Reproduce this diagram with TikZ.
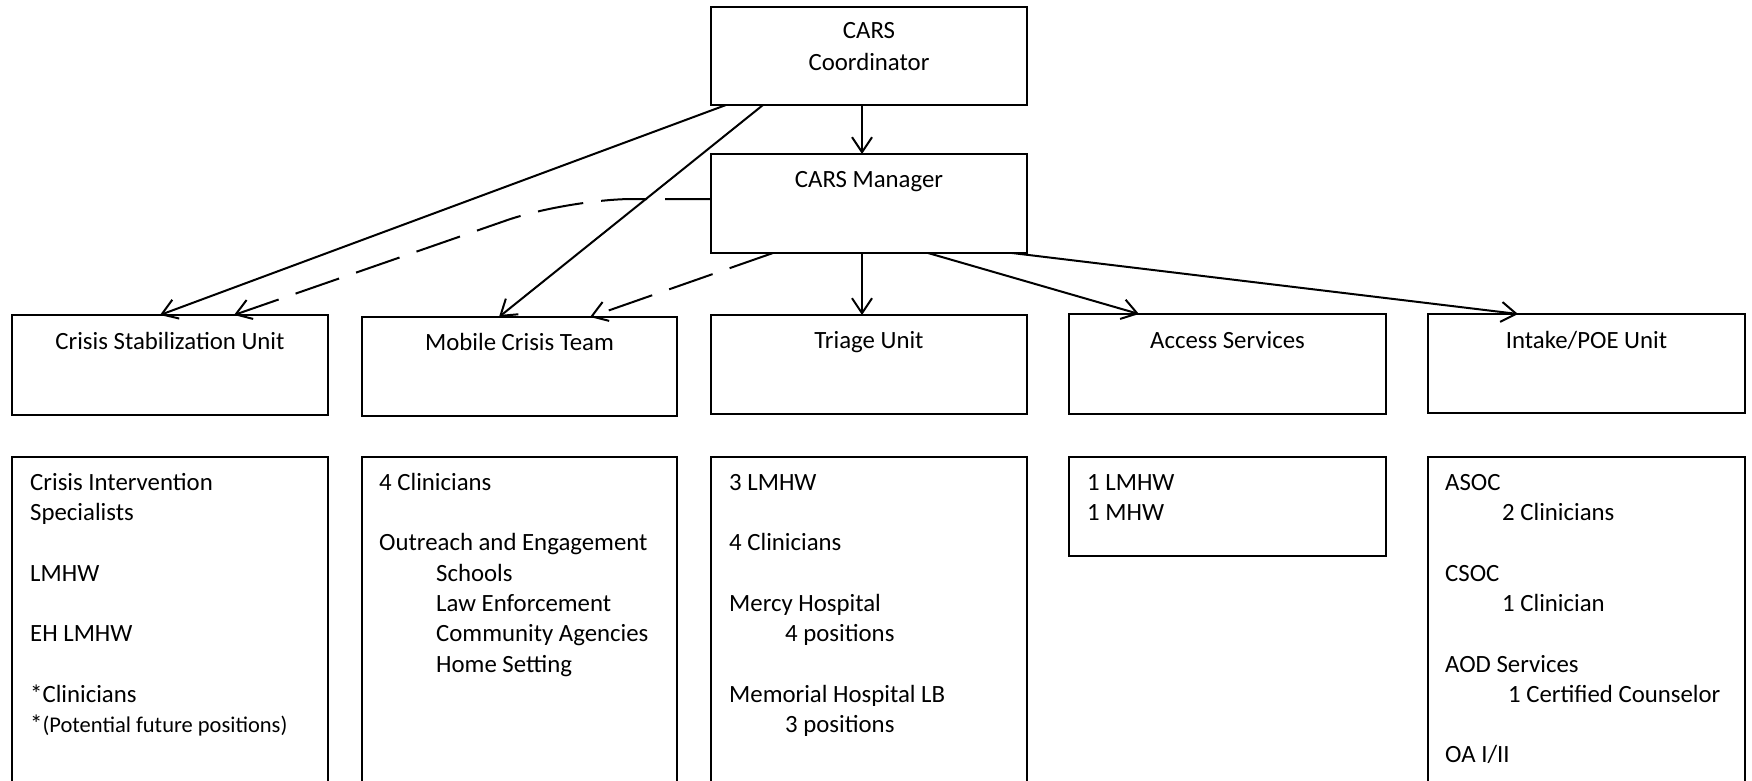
\documentclass[tikz,border=0pt]{standalone}
\usepackage{fontspec}
\setmainfont{Carlito}
\usetikzlibrary{arrows.meta}
\begin{document}
\begin{tikzpicture}[x=1pt,y=-1pt,
  box/.style={draw,line width=1.6pt,minimum width=316pt,inner sep=0pt,outer sep=0pt,anchor=north west},
  ttl/.style={anchor=base,inner sep=0pt,font=\fontsize{24.8}{30.3}\selectfont},
  body/.style={anchor=north west,inner sep=0pt,align=left,font=\fontsize{24.8}{30.3}\selectfont},
  conn/.style={line width=2pt,-{Straight Barb[length=15pt,width=20pt]}},
  dconn/.style={conn,dash pattern=on 46pt off 18pt}]
\clip (0,0) rectangle (1752,781);
% boxes
\node[box,minimum height=98pt] (coord) at (711,7) {};
\node[box,minimum height=99pt] (mgr) at (711,154) {};
\node[box,minimum height=100pt] (csu) at (12,315) {};
\node[box,minimum width=315pt,minimum height=99pt] (mct) at (362,317) {};
\node[box,minimum height=99pt] (triage) at (711,315) {};
\node[box,minimum width=317pt,minimum height=100pt] (access) at (1069,314) {};
\node[box,minimum width=317pt,minimum height=99pt] (intake) at (1428,314) {};
\node[box,minimum height=343pt] (csud) at (12,457) {};
\node[box,minimum width=315pt,minimum height=343pt] (mctd) at (362,457) {};
\node[box,minimum height=343pt] (triaged) at (711,457) {};
\node[box,minimum width=317pt,minimum height=99pt] (accessd) at (1069,457) {};
\node[box,minimum width=317pt,minimum height=343pt] (intaked) at (1428,457) {};
% titles
\node[ttl] (coordA) at ([yshift=-32pt]coord.north) {CARS};
\node[ttl] (coordB) at ([yshift=-64pt]coord.north) {Coordinator};
\node[ttl] (mgrT) at ([yshift=-33pt]mgr.north) {CARS Manager};
\node[ttl] (csuT) at ([yshift=-34pt]csu.north) {Crisis Stabilization Unit};
\node[ttl] (mctT) at ([yshift=-33pt]mct.north) {Mobile Crisis Team};
\node[ttl] (triageT) at ([yshift=-33pt]triage.north) {Triage Unit};
\node[ttl] (accessT) at ([yshift=-34pt]access.north) {Access Services};
\node[ttl] (intakeT) at ([yshift=-34pt]intake.north) {Intake/POE Unit};
% bodies
\node[body] (csuB) at (30,468.8) {\strut Crisis Intervention\\ Specialists\\ \strut\\ LMHW\\ \strut\\ EH LMHW\\ \strut\\ *Clinicians\\ *{\fontsize{22.5}{30.3}\selectfont(Potential future positions)}};
\node[body] (mctB) at (379,468.8) {\strut 4 Clinicians\\ \strut\\ Outreach and Engagement\\ \hspace*{57pt}Schools\\ \hspace*{57pt}Law Enforcement\\ \hspace*{57pt}Community Agencies\\ \hspace*{57pt}Home Setting};
\node[body] (triageB) at (729,468.8) {\strut 3 LMHW\\ \strut\\ 4 Clinicians\\ \strut\\ Mercy Hospital\\ \hspace*{56pt}4 positions\\ \strut\\ Memorial Hospital LB\\ \hspace*{56pt}3 positions};
\node[body] (accessB) at (1087,468.8) {\strut 1 LMHW\\ 1 MHW};
\node[body] (intakeB) at (1445,468.8) {\strut ASOC\\ \hspace*{57pt}2 Clinicians\\ \strut\\ CSOC\\ \hspace*{57pt}1 Clinician\\ \strut\\ AOD Services\\ \hspace*{63pt}1 Certified Counselor\\ \strut\\ OA I/II};
% connectors
\coordinate (bend) at (568,199);
\draw[conn] ([xshift=151pt]coord.south west) -- ([xshift=151pt]mgr.north west);
\draw[conn] ([xshift=15pt]coord.south west) -- ([xshift=148pt]csu.north west);
\draw[conn] ([xshift=52pt]coord.south west) -- ([xshift=137pt]mct.north west);
\draw[dconn,rounded corners=65pt] ([yshift=4.5pt]mgr.west) -- (bend) -- ([xshift=222pt]csu.north west);
\draw[dconn] ([xshift=62pt]mgr.south west) -- ([xshift=228pt]mct.north west);
\draw[conn] ([xshift=151pt]mgr.south west) -- ([xshift=151pt]triage.north west);
\draw[conn] ([xshift=217pt]mgr.south west) -- ([xshift=70pt]access.north west);
\draw[conn] ([xshift=301pt]mgr.south west) -- ([xshift=90pt]intake.north west);
\end{tikzpicture}
\end{document}
